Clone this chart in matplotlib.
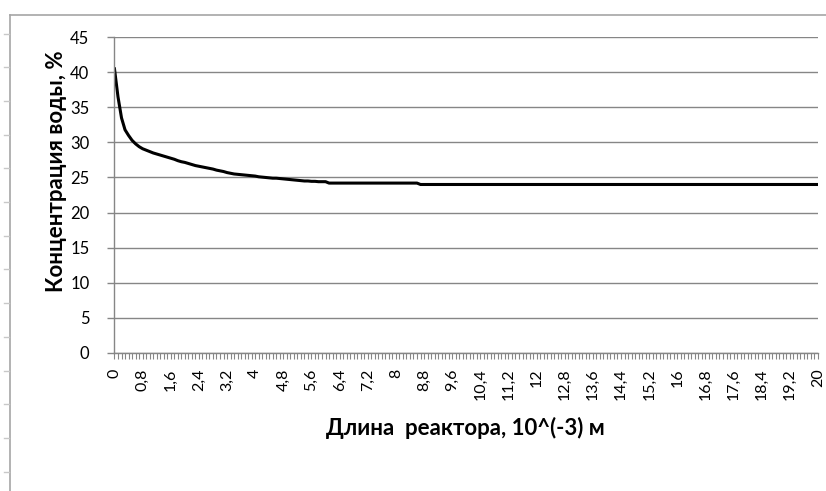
import numpy as np
import matplotlib
matplotlib.use('Agg')
import matplotlib.pyplot as plt
from matplotlib.lines import Line2D

plt.rcParams['font.family'] = ['Lato', 'Open Sans', 'DejaVu Sans']

# длина реактора, шаг 0.1 (10^-3 м)
dlina = np.round(np.arange(201) * 0.1, 1)

# концентрация воды, %
konc_nachalo = [40.5, 36.5, 33.5, 31.8, 31.0, 30.3, 29.8, 29.4, 29.1, 28.9,
                28.7, 28.5, 28.35, 28.2, 28.05, 27.9, 27.75, 27.6, 27.4, 27.25,
                27.15, 27.0, 26.85, 26.7, 26.6, 26.5, 26.4, 26.3, 26.2, 26.05,
                25.95, 25.85, 25.7, 25.6, 25.5, 25.45, 25.4, 25.35, 25.3, 25.25,
                25.2, 25.1, 25.05, 25.0, 24.95, 24.9, 24.9, 24.85, 24.8, 24.75,
                24.7, 24.65, 24.6, 24.55, 24.5, 24.5, 24.45, 24.45, 24.4, 24.4,
                24.4]
konc_sered = [24.2] * 26
konc_konec = [24.0] * 114
konc = konc_nachalo + konc_sered + konc_konec

shag_podpisi = 8
y_ticks = [0, 5, 10, 15, 20, 25, 30, 35, 40, 45]

seryj = '#868686'

fig = plt.figure(figsize=(8.26, 4.91), dpi=100)
ax = fig.add_axes([0.1386, 0.2817, 0.9903 - 0.1386, 0.924 - 0.2817])

pozicii = np.arange(len(dlina))
ax.plot(pozicii, konc, color='black', linewidth=2.2, solid_joinstyle='round')

ax.set_xlim(0, len(dlina) - 1)
ax.set_ylim(0, 45)
ax.set_yticks(y_ticks)
ax.set_yticklabels([str(v) for v in y_ticks], fontsize=12)
ax.yaxis.grid(True, color=seryj, linewidth=1.0)
ax.set_axisbelow(True)

glav = pozicii[::shag_podpisi]
ax.set_xticks(glav)
ax.set_xticklabels([('%g' % dlina[i]).replace('.', ',') for i in glav],
                   rotation=90, fontsize=11.5)
ax.set_xticks(pozicii, minor=True)

ax.tick_params(axis='x', which='both', length=4.5, width=0.8, color=seryj, pad=7)
ax.tick_params(axis='y', length=5, width=1.0, color=seryj, pad=13)

for s in ['top', 'right']:
    ax.spines[s].set_visible(False)
for s in ['left', 'bottom']:
    ax.spines[s].set_color(seryj)
    ax.spines[s].set_linewidth(1.0)

ax.set_ylabel('Концентрация воды, %', fontsize=16, fontweight='bold')
ax.set_xlabel('Длина  реактора, 10^(-3) м', fontsize=16, fontweight='bold')
ax.yaxis.label.set_va('center')
ax.xaxis.label.set_va('center')
ax.yaxis.set_label_coords(-0.083, 0.577)
ax.xaxis.set_label_coords(0.499, -0.238)

# рамка области диаграммы
fig.add_artist(Line2D([10 / 826, 1], [1 - 15 / 491, 1 - 15 / 491],
                      transform=fig.transFigure, color='#a6a6a6', linewidth=1.2))
fig.add_artist(Line2D([10 / 826, 10 / 826], [0, 1 - 15 / 491],
                      transform=fig.transFigure, color='#a6a6a6', linewidth=1.2))
for k in range(14):
    yy = 1 - (33.5 + 33.7 * k) / 491
    fig.add_artist(Line2D([4 / 826, 9 / 826], [yy, yy],
                          transform=fig.transFigure, color='#c8c8c8', linewidth=1.0))

fig.savefig('out.png', dpi=100)
